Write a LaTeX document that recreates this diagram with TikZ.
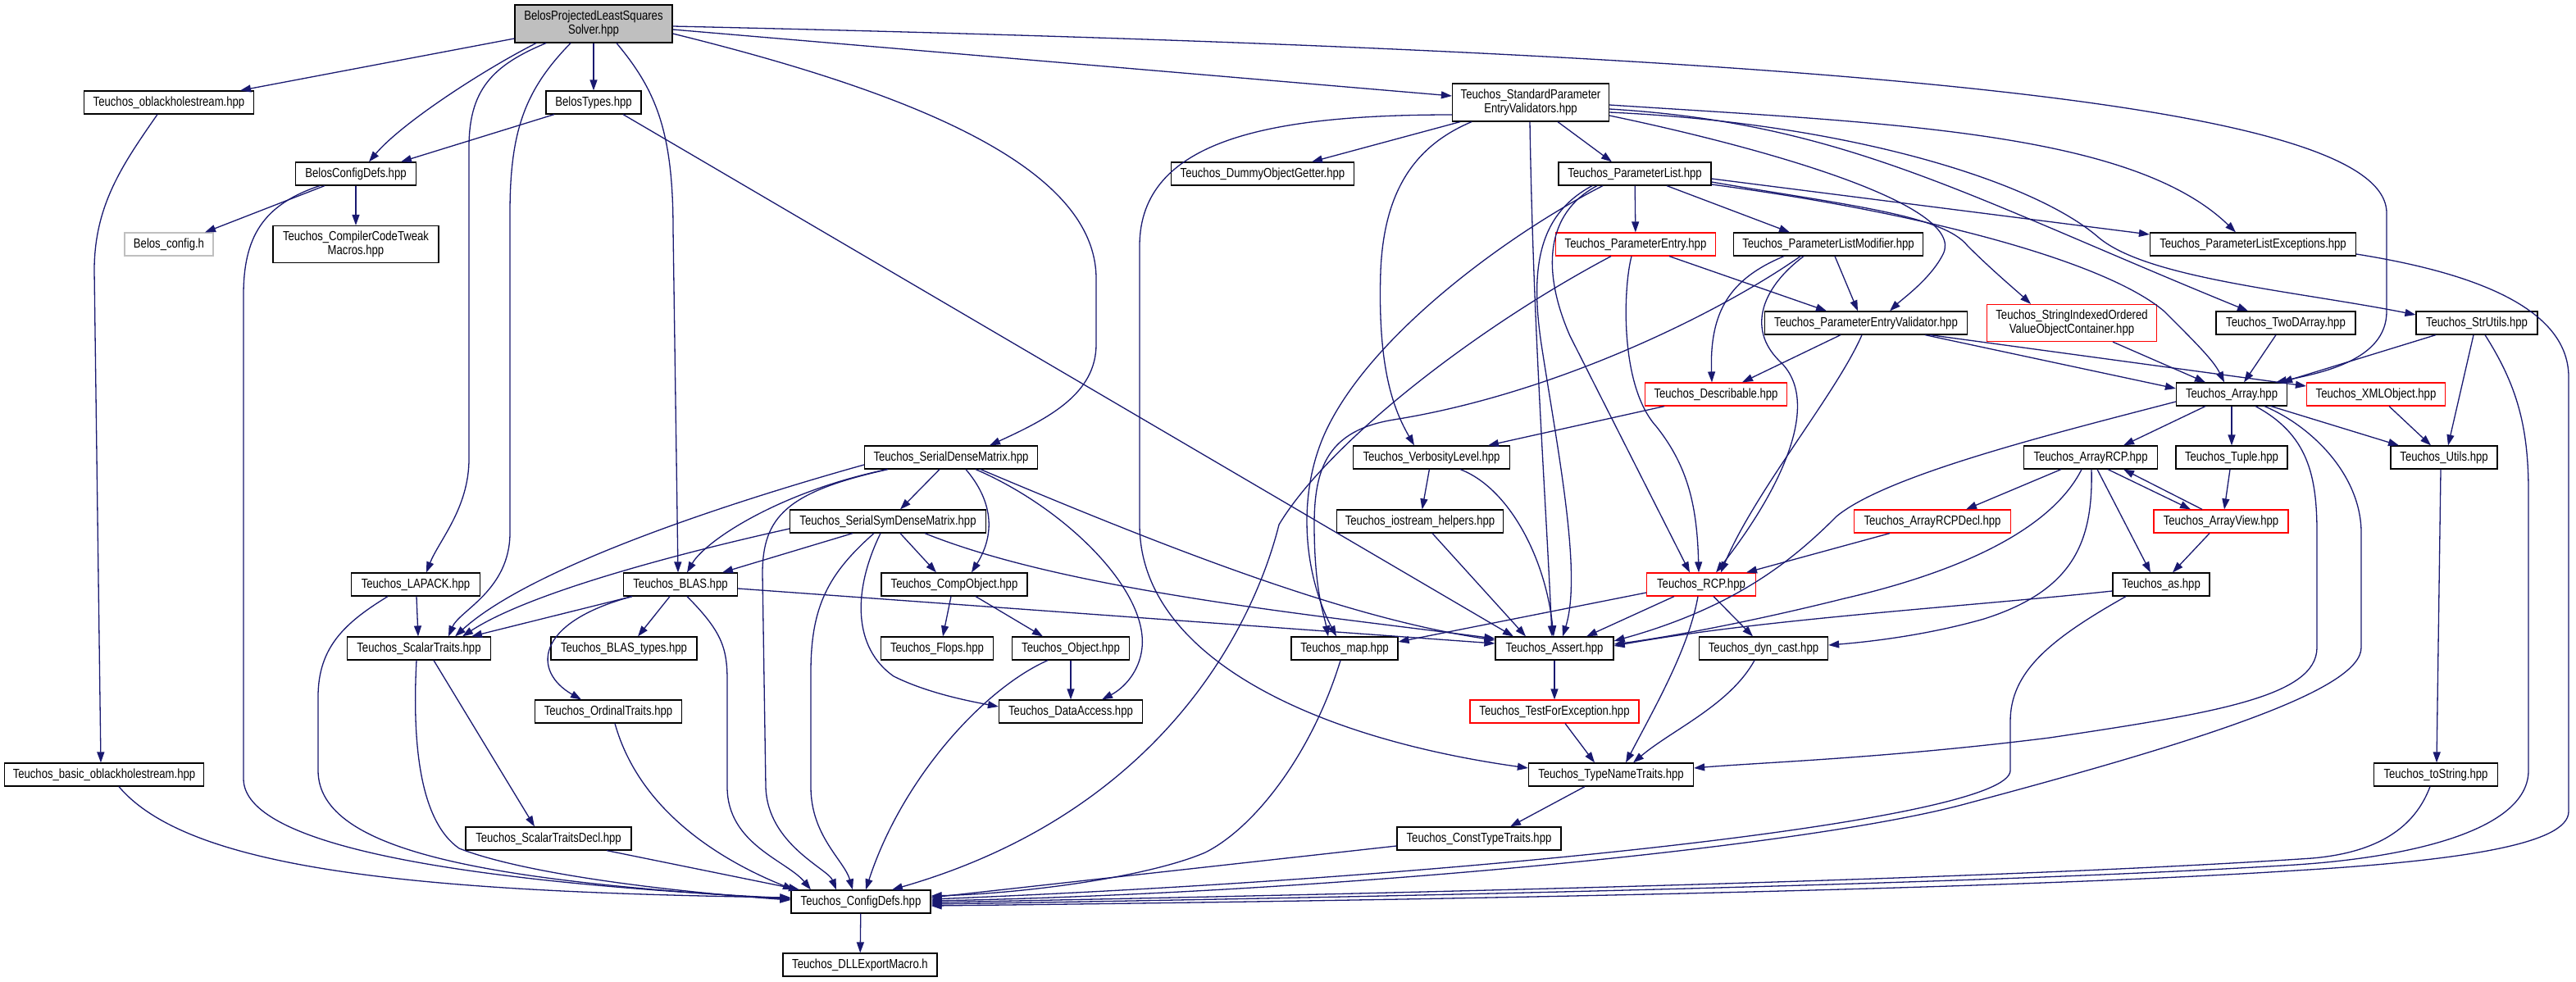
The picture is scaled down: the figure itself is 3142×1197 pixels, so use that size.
\documentclass[tikz,border=0pt]{standalone}
\usepackage{fontspec}
\setmainfont{Liberation Sans}[FakeStretch=0.82]
\usetikzlibrary{arrows.meta,calc}
\definecolor{edgec}{RGB}{25,25,112}
\definecolor{rootgray}{RGB}{191,191,191}
\definecolor{lightbd}{RGB}{191,191,191}
\newcommand\nodefont{\fontsize{16pt}{17pt}\selectfont}
\newcommand\mknode[6]{\node[#1, minimum width=#4pt, minimum height=#5pt] (#2) at (#3) {#6};}
\tikzset{
  nd/.style={draw=black, line width=1.2pt, fill=white, inner sep=0pt, font=\nodefont, align=center},
  rednd/.style={nd, draw=red},
  graynd/.style={nd, draw=lightbd},
  rootnd/.style={nd, fill=rootgray},
  conn/.style={draw=edgec, line width=1.3pt, line join=round, -{Triangle[length=13pt,width=9pt]}},
}
\begin{document}
\begin{tikzpicture}[x=1pt,y=-1pt]
\fill[white] (0,0) rectangle (3142,1197);
\useasboundingbox (0,0) rectangle (3142,1197);
% ---------------- nodes
\mknode{rootnd}{root}{724,29}{192}{46}{BelosProjectedLeastSquares\\Solver.hpp}
\mknode{nd}{oblack}{206,125}{207}{28}{Teuchos\_oblackholestream.hpp}
\mknode{nd}{btypes}{724,125}{116}{28}{BelosTypes.hpp}
\mknode{nd}{bcfg}{434,212}{147}{28}{BelosConfigDefs.hpp}
\mknode{graynd}{bconfigh}{206,298}{108}{28}{Belos\_config.h}
\mknode{nd}{tweak}{434,298}{202}{45}{Teuchos\_CompilerCodeTweak\\Macros.hpp}
\mknode{nd}{dummy}{1540,212}{223}{28}{Teuchos\_DummyObjectGetter.hpp}
\mknode{nd}{spev}{1867,125}{191}{46}{Teuchos\_StandardParameter\\EntryValidators.hpp}
\mknode{nd}{plist}{1994,212}{186}{28}{Teuchos\_ParameterList.hpp}
\mknode{rednd}{pentry}{1995,298}{195}{28}{Teuchos\_ParameterEntry.hpp}
\mknode{nd}{plm}{2230,298}{231}{28}{Teuchos\_ParameterListModifier.hpp}
\mknode{nd}{plexc}{2748,298}{251}{28}{Teuchos\_ParameterListExceptions.hpp}
\mknode{nd}{pev}{2276,394}{247}{28}{Teuchos\_ParameterEntryValidator.hpp}
\mknode{rednd}{sioc}{2527,394}{207}{45}{Teuchos\_StringIndexedOrdered\\ValueObjectContainer.hpp}
\mknode{nd}{twod}{2788,394}{170}{28}{Teuchos\_TwoDArray.hpp}
\mknode{nd}{strutils}{3021,394}{148}{28}{Teuchos\_StrUtils.hpp}
\mknode{nd}{array}{2722,481}{135}{28}{Teuchos\_Array.hpp}
\mknode{rednd}{xml}{2898,481}{169}{28}{Teuchos\_XMLObject.hpp}
\mknode{rednd}{describable}{2093,481}{173}{28}{Teuchos\_Describable.hpp}
\mknode{nd}{sdm}{1160,558}{211}{28}{Teuchos\_SerialDenseMatrix.hpp}
\mknode{nd}{verb}{1746,558}{191}{28}{Teuchos\_VerbosityLevel.hpp}
\mknode{nd}{arcp}{2550,558}{163}{28}{Teuchos\_ArrayRCP.hpp}
\mknode{nd}{tuple}{2722,558}{136}{28}{Teuchos\_Tuple.hpp}
\mknode{nd}{utils}{2981,558}{130}{28}{Teuchos\_Utils.hpp}
\mknode{nd}{ssdm}{1083,636}{239}{28}{Teuchos\_SerialSymDenseMatrix.hpp}
\mknode{nd}{iostream}{1732,636}{203}{28}{Teuchos\_iostream\_helpers.hpp}
\mknode{rednd}{arcpdecl}{2357,636}{191}{28}{Teuchos\_ArrayRCPDecl.hpp}
\mknode{rednd}{aview}{2709,636}{164}{28}{Teuchos\_ArrayView.hpp}
\mknode{nd}{lapack}{507,713}{157}{28}{Teuchos\_LAPACK.hpp}
\mknode{nd}{blas}{830,713}{139}{28}{Teuchos\_BLAS.hpp}
\mknode{nd}{compobj}{1164,713}{178}{28}{Teuchos\_CompObject.hpp}
\mknode{rednd}{rcp}{2075,713}{133}{28}{Teuchos\_RCP.hpp}
\mknode{nd}{as}{2636,713}{118}{28}{Teuchos\_as.hpp}
\mknode{nd}{scalar}{511,791}{175}{28}{Teuchos\_ScalarTraits.hpp}
\mknode{nd}{blastypes}{761,791}{178}{28}{Teuchos\_BLAS\_types.hpp}
\mknode{nd}{flops}{1143,791}{137}{28}{Teuchos\_Flops.hpp}
\mknode{nd}{object}{1306,791}{143}{28}{Teuchos\_Object.hpp}
\mknode{nd}{map}{1640,791}{130}{28}{Teuchos\_map.hpp}
\mknode{nd}{assert}{1896,791}{144}{28}{Teuchos\_Assert.hpp}
\mknode{nd}{dyncast}{2151,791}{157}{28}{Teuchos\_dyn\_cast.hpp}
\mknode{nd}{ordinal}{742,868}{179}{28}{Teuchos\_OrdinalTraits.hpp}
\mknode{nd}{dataaccess}{1306,868}{175}{28}{Teuchos\_DataAccess.hpp}
\mknode{rednd}{tfe}{1896,868}{206}{28}{Teuchos\_TestForException.hpp}
\mknode{nd}{basicob}{127,945}{243}{28}{Teuchos\_basic\_oblackholestream.hpp}
\mknode{nd}{tnt}{1965,945}{201}{28}{Teuchos\_TypeNameTraits.hpp}
\mknode{nd}{toString}{2971,945}{151}{28}{Teuchos\_toString.hpp}
\mknode{nd}{sdecl}{669,1023}{202}{28}{Teuchos\_ScalarTraitsDecl.hpp}
\mknode{nd}{ctt}{1804,1023}{200}{28}{Teuchos\_ConstTypeTraits.hpp}
\mknode{nd}{configdefs}{1050,1100}{170}{28}{Teuchos\_ConfigDefs.hpp}
\mknode{nd}{dll}{1049,1177}{188}{28}{Teuchos\_DLLExportMacro.h}
% ---------------- edges
% root
\draw[conn] ($(root.west)+(0,18)$) -- ($(oblack.north)+(87,0)$);
\draw[conn] ($(root.south)+(-70,0)$) .. controls (590,85) and (490,150) .. ($(bcfg.north)+(16,0)$);
\draw[conn] ($(root.south)+(-58,0)$) .. controls (600,80) and (572,110) .. (572,180) -- (572,560) .. controls (572,620) and (535,660) .. ($(lapack.north)+(13,0)$);
\draw[conn] ($(root.south)+(-28,0)$) .. controls (640,110) and (622,160) .. (622,260) -- (622,650) .. controls (622,720) and (560,745) .. ($(scalar.north)+(36,0)$);
\draw[conn] (root) -- (btypes);
\draw[conn] ($(root.south)+(28,0)$) .. controls (800,110) and (821,160) .. (821,280) -- ($(blas.north)+(-3,0)$);
\draw[conn] ($(root.east)+(0,12)$) .. controls (1100,110) and (1337,200) .. (1337,340) -- (1337,420) .. controls (1337,480) and (1280,510) .. ($(sdm.north)+(47,0)$);
\draw[conn] ($(root.east)+(0,7)$) -- ($(spev.west)+(0,-8)$);
\draw[conn] ($(root.east)+(0,3)$) .. controls (2300,65) and (2911,130) .. (2911,260) -- (2911,380) .. controls (2911,440) and (2830,455) .. ($(array.north)+(54,0)$);
% oblackholestream
\draw[conn] ($(oblack.south)+(-14,0)$) .. controls (150,200) and (115,250) .. (115,330) -- ($(basicob.north)+(-4,0)$);
\draw[conn] ($(basicob.south)+(18,0)$) .. controls (230,1060) and (500,1088) .. ($(configdefs.west)+(0,-5)$);
% BelosTypes
\draw[conn] ($(btypes.south)+(-48,0)$) -- ($(bcfg.north)+(55,0)$);
\draw[conn] ($(btypes.south)+(36,0)$) -- ($(assert.north)+(-50,0)$);
% BelosConfigDefs
\draw[conn] ($(bcfg.south)+(-38,0)$) -- ($(bconfigh.north)+(44,0)$);
\draw[conn] (bcfg) -- (tweak);
\draw[conn] ($(bcfg.south)+(-44,0)$) .. controls (320,250) and (297,290) .. (297,360) -- (297,950) .. controls (297,1030) and (550,1075) .. ($(configdefs.west)+(0,-4)$);
% LAPACK
\draw[conn] ($(lapack.south)+(1,0)$) -- ($(scalar.north)+(-1,0)$);
\draw[conn] ($(lapack.south)+(-34,0)$) .. controls (420,760) and (388,790) .. (388,850) -- (388,940) .. controls (388,1040) and (600,1075) .. ($(configdefs.west)+(0,-3)$);
% ScalarTraits
\draw[conn] ($(scalar.south)+(18,0)$) -- ($(sdecl.north)+(-17,0)$);
\draw[conn] ($(scalar.south)+(-3,0)$) .. controls (503,900) and (510,1000) .. (560,1035) .. controls (650,1070) and (850,1090) .. ($(configdefs.west)+(0,-2)$);
\draw[conn] ($(sdecl.south)+(71,0)$) -- ($(configdefs.north)+(-75,0)$);
% BLAS
\draw[conn] ($(blas.south)+(-59,0)$) -- ($(scalar.north)+(64,0)$);
\draw[conn] ($(blas.south)+(-13,0)$) -- ($(blastypes.north)+(17,0)$);
\draw[conn] ($(blas.south)+(-59,0)$) .. controls (650,760) and (650,820) .. ($(ordinal.north)+(-33,0)$);
\draw[conn] ($(blas.east)+(0,5)$) -- ($(assert.west)+(0,-6)$);
\draw[conn] ($(blas.south)+(8,0)$) .. controls (880,770) and (887,790) .. (887,830) -- (887,960) .. controls (887,1030) and (960,1050) .. ($(configdefs.north)+(-61,0)$);
\draw[conn] ($(ordinal.south)+(8,0)$) .. controls (780,990) and (880,1050) .. ($(configdefs.north)+(-82,0)$);
% SerialDenseMatrix
\draw[conn] ($(sdm.south)+(-14,0)$) -- ($(ssdm.north)+(15,0)$);
\draw[conn] ($(sdm.south)+(18,0)$) .. controls (1210,610) and (1215,650) .. ($(compobj.north)+(21,0)$);
\draw[conn] ($(sdm.south)+(-78,0)$) .. controls (950,600) and (860,660) .. ($(blas.north)+(8,0)$);
\draw[conn] ($(sdm.west)+(0,9)$) .. controls (900,610) and (650,690) .. ($(scalar.north)+(44,0)$);
\draw[conn] ($(sdm.south)+(30,0)$) .. controls (1300,620) and (1400,720) .. (1393,790) .. controls (1390,820) and (1370,840) .. ($(dataaccess.north)+(38,0)$);
\draw[conn] ($(sdm.south)+(36,0)$) .. controls (1450,680) and (1650,755) .. ($(assert.west)+(0,-10)$);
\draw[conn] ($(sdm.south)+(-77,0)$) .. controls (960,600) and (930,630) .. (930,700) -- (934,960) .. controls (936,1030) and (1010,1060) .. ($(configdefs.north)+(-30,0)$);
% SerialSymDenseMatrix
\draw[conn] ($(ssdm.south)+(-43,0)$) -- ($(blas.north)+(51,0)$);
\draw[conn] ($(ssdm.west)+(0,9)$) .. controls (850,670) and (650,720) .. ($(scalar.north)+(53,0)$);
\draw[conn] ($(ssdm.south)+(15,0)$) -- ($(compobj.north)+(-22,0)$);
\draw[conn] ($(ssdm.south)+(45,0)$) .. controls (1300,720) and (1600,750) .. ($(assert.west)+(0,-12)$);
\draw[conn] ($(ssdm.south)+(-9,0)$) .. controls (1040,720) and (1040,790) .. (1090,825) .. controls (1130,845) and (1180,855) .. ($(dataaccess.west)+(0,-6)$);
\draw[conn] ($(ssdm.south)+(-17,0)$) .. controls (1010,700) and (989,740) .. (989,820) -- (989,960) .. controls (989,1020) and (1030,1050) .. ($(configdefs.north)+(-10,0)$);
% CompObject / Object
\draw[conn] ($(compobj.south)+(-4,0)$) -- ($(flops.north)+(7,0)$);
\draw[conn] ($(compobj.south)+(26,0)$) -- ($(object.north)+(-34,0)$);
\draw[conn] (object) -- (dataaccess);
\draw[conn] ($(object.south)+(-28,0)$) .. controls (1200,840) and (1100,950) .. ($(configdefs.north)+(6,0)$);
% into ConfigDefs from the right
\draw[conn] ($(pentry.south)+(-30,0)$) .. controls (1800,400) and (1620,540) .. (1560,640) .. controls (1530,760) and (1420,990) .. ($(configdefs.north)+(38,0)$);
\draw[conn] ($(map.south)+(-5,0)$) .. controls (1600,920) and (1530,1010) .. (1470,1040) .. controls (1400,1070) and (1250,1090) .. ($(configdefs.east)+(0,-7)$);
\draw[conn] ($(ctt.west)+(0,9)$) -- ($(configdefs.east)+(0,-5)$);
\draw[conn] ($(as.south)+(-43,0)$) .. controls (2500,780) and (2452,820) .. (2452,880) -- (2452,940) .. controls (2452,1000) and (1800,1070) .. ($(configdefs.east)+(0,-3)$);
\draw[conn] ($(array.south)+(40,0)$) .. controls (2820,520) and (2880,580) .. (2880,650) -- (2880,790) .. controls (2880,840) and (2700,900) .. (2400,980) .. controls (2200,1035) and (1600,1090) .. ($(configdefs.east)+(0,-1)$);
\draw[conn] ($(toString.south)+(-7,0)$) .. controls (2945,1010) and (2900,1040) .. (2820,1047) .. controls (2400,1075) and (1600,1092) .. ($(configdefs.east)+(0,1)$);
\draw[conn] ($(strutils.south)+(10,0)$) .. controls (3070,470) and (3084,520) .. (3084,600) -- (3084,940) .. controls (3084,1010) and (2950,1045) .. (2800,1055) .. controls (2400,1080) and (1600,1096) .. ($(configdefs.east)+(0,3)$);
\draw[conn] ($(plexc.east)+(0,12)$) .. controls (3000,330) and (3133,370) .. (3133,460) -- (3133,990) .. controls (3133,1030) and (3000,1050) .. (2800,1062) .. controls (2400,1088) and (1600,1100) .. ($(configdefs.east)+(0,5)$);
\draw[conn] (configdefs) -- (dll);
% StandardParameterEntryValidators
\draw[conn] ($(spev.south)+(-86,0)$) -- ($(dummy.north)+(60,0)$);
\draw[conn] ($(spev.west)+(0,15)$) .. controls (1550,140) and (1390,170) .. (1390,300) -- (1390,640) .. controls (1390,800) and (1600,900) .. ($(tnt.west)+(0,-8)$);
\draw[conn] ($(spev.south)+(-72,0)$) .. controls (1720,180) and (1688,240) .. (1684,330) .. controls (1680,450) and (1700,500) .. ($(verb.north)+(-21,0)$);
\draw[conn] ($(spev.south)+(-1,0)$) .. controls (1870,400) and (1885,600) .. ($(assert.north)+(-3,0)$);
\draw[conn] ($(spev.south)+(33,0)$) -- ($(plist.north)+(-28,0)$);
\draw[conn] ($(spev.east)+(0,3)$) .. controls (2300,150) and (2600,160) .. ($(plexc.north)+(-21,0)$);
\draw[conn] ($(spev.east)+(0,16)$) .. controls (2150,180) and (2400,250) .. (2370,310) .. controls (2355,340) and (2320,365) .. ($(pev.north)+(29,0)$);
\draw[conn] ($(spev.east)+(0,8)$) .. controls (2250,150) and (2400,240) .. ($(twod.north)+(-46,0)$);
\draw[conn] ($(spev.east)+(0,12)$) .. controls (2250,150) and (2480,220) .. (2560,290) .. controls (2620,340) and (2800,355) .. ($(strutils.west)+(0,-10)$);
% ParameterList
\draw[conn] (plist) -- (pentry);
\draw[conn] ($(plist.south)+(39,0)$) -- ($(plm.north)+(-47,0)$);
\draw[conn] ($(plist.east)+(0,6)$) -- ($(plexc.west)+(0,-12)$);
\draw[conn] ($(plist.east)+(0,10)$) .. controls (2250,250) and (2370,262) .. (2400,300) .. controls (2430,330) and (2460,355) .. ($(sioc.north)+(-50,0)$);
\draw[conn] ($(plist.east)+(0,13)$) .. controls (2350,260) and (2570,320) .. (2640,380) .. controls (2680,420) and (2700,440) .. ($(array.north)+(-9,0)$);
\draw[conn] ($(plist.south)+(-39,0)$) .. controls (1850,280) and (1680,400) .. (1620,520) .. controls (1580,600) and (1590,700) .. ($(map.north)+(-10,0)$);
\draw[conn] ($(plist.south)+(-52,0)$) .. controls (1880,260) and (1865,320) .. (1880,420) .. controls (1900,550) and (1930,700) .. ($(assert.north)+(10,0)$);
\draw[conn] ($(plist.south)+(-46,0)$) .. controls (1885,260) and (1880,330) .. (1915,410) -- ($(rcp.north)+(-14,0)$);
% ParameterEntry
\draw[conn] ($(pentry.south)+(41,0)$) -- ($(pev.north)+(-48,0)$);
\draw[conn] ($(pentry.south)+(-5,0)$) .. controls (1980,350) and (1975,470) .. (2020,520) .. controls (2060,570) and (2070,620) .. ($(rcp.north)+(-3,0)$);
% ParameterListModifier
\draw[conn] ($(plm.south)+(8,0)$) -- ($(pev.north)+(-10,0)$);
\draw[conn] ($(plm.south)+(-54,0)$) .. controls (2110,340) and (2085,380) .. ($(describable.north)+(-5,0)$);
\draw[conn] ($(plm.south)+(-30,0)$) .. controls (2150,350) and (2130,400) .. (2170,440) .. controls (2225,490) and (2170,600) .. ($(rcp.north)+(18,0)$);
\draw[conn] ($(plm.south)+(-34,0)$) .. controls (2100,380) and (1900,480) .. (1700,512) .. controls (1620,525) and (1603,570) .. (1603,640) .. controls (1603,720) and (1615,750) .. ($(map.north)+(-20,0)$);
% ParameterEntryValidator
\draw[conn] ($(pev.south)+(-31,0)$) -- ($(describable.north)+(32,0)$);
\draw[conn] ($(pev.south)+(-5,0)$) .. controls (2240,480) and (2140,600) .. ($(rcp.north)+(24,0)$);
\draw[conn] ($(pev.south)+(72,0)$) -- ($(array.west)+(0,-7)$);
\draw[conn] ($(pev.south)+(78,0)$) -- ($(xml.west)+(0,-10)$);
% containers into Array
\draw[conn] ($(sioc.south)+(50,0)$) -- ($(array.north)+(-32,0)$);
\draw[conn] ($(twod.south)+(-12,0)$) -- ($(array.north)+(15,0)$);
\draw[conn] ($(strutils.south)+(-50,0)$) -- ($(array.north)+(61,0)$);
\draw[conn] ($(strutils.south)+(-4,0)$) -- ($(utils.north)+(5,0)$);
% Describable / VerbosityLevel
\draw[conn] ($(describable.south)+(-63,0)$) -- ($(verb.north)+(69,0)$);
\draw[conn] (verb) -- (iostream);
\draw[conn] ($(verb.south)+(35,0)$) .. controls (1840,595) and (1885,680) .. ($(assert.north)+(-1,0)$);
\draw[conn] ($(iostream.south)+(15,0)$) -- ($(assert.north)+(-35,0)$);
% Array
\draw[conn] ($(array.south)+(-32,0)$) -- ($(arcp.north)+(40,0)$);
\draw[conn] (array) -- (tuple);
\draw[conn] ($(array.south)+(48,0)$) -- ($(utils.north)+(-55,0)$);
\draw[conn] ($(xml.south)+(16,0)$) -- ($(utils.north)+(-16,0)$);
\draw[conn] ($(array.west)+(0,9)$) .. controls (2500,530) and (2300,580) .. (2240,630) .. controls (2190,680) and (2120,740) .. ($(assert.east)+(0,-9)$);
\draw[conn] ($(array.south)+(29,0)$) .. controls (2815,530) and (2826,580) .. (2826,650) -- (2826,790) .. controls (2826,850) and (2700,870) .. (2500,900) .. controls (2300,925) and (2150,930) .. ($(tnt.east)+(0,-8)$);
% ArrayRCP
\draw[conn] ($(arcp.south)+(-36,0)$) -- ($(arcpdecl.north)+(41,0)$);
\draw[conn] ($(arcp.south)+(21,0)$) -- ($(aview.north)+(-37,0)$);
\draw[conn] ($(aview.north)+(-23,0)$) -- ($(arcp.south)+(40,0)$);
\draw[conn] ($(arcp.south)+(8,0)$) -- ($(as.north)+(-13,0)$);
\draw[conn] ($(arcp.south)+(-11,0)$) .. controls (2500,650) and (2380,700) .. (2250,730) .. controls (2150,755) and (2050,775) .. ($(assert.east)+(0,-5)$);
\draw[conn] ($(arcp.south)+(1,0)$) .. controls (2553,660) and (2530,720) .. (2420,755) .. controls (2350,775) and (2280,783) .. ($(dyncast.east)+(0,-4)$);
\draw[conn] ($(tuple.south)+(-2,0)$) -- ($(aview.north)+(4,0)$);
\draw[conn] ($(aview.south)+(-14,0)$) -- ($(as.north)+(14,0)$);
\draw[conn] ($(arcpdecl.south)+(-52,0)$) -- ($(rcp.north)+(55,0)$);
\draw[conn] ($(as.west)+(0,8)$) .. controls (2400,740) and (2150,755) .. ($(assert.east)+(0,-3)$);
\draw[conn] ($(utils.south)+(-4,0)$) -- ($(toString.north)+(1,0)$);
% RCP and below
\draw[conn] ($(rcp.west)+(0,10)$) -- ($(map.east)+(0,-8)$);
\draw[conn] ($(rcp.south)+(-33,0)$) -- ($(assert.north)+(39,0)$);
\draw[conn] ($(rcp.south)+(15,0)$) -- ($(dyncast.north)+(-13,0)$);
\draw[conn] ($(rcp.south)+(-4,0)$) .. controls (2060,790) and (2020,860) .. ($(tnt.north)+(18,0)$);
\draw[conn] ($(dyncast.south)+(-11,0)$) .. controls (2110,860) and (2040,890) .. ($(tnt.north)+(27,0)$);
\draw[conn] (assert) -- (tfe);
\draw[conn] ($(tfe.south)+(13,0)$) -- ($(tnt.north)+(-20,0)$);
\draw[conn] ($(tnt.south)+(-32,0)$) -- ($(ctt.north)+(38,0)$);
\end{tikzpicture}
\end{document}
